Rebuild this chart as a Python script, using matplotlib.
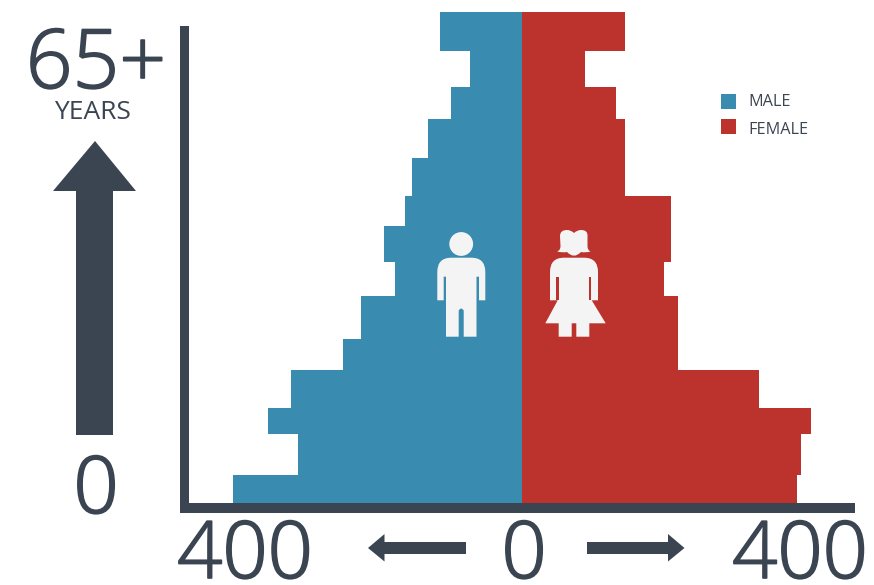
import matplotlib
matplotlib.use("Agg")
import matplotlib.pyplot as plt
import matplotlib.patheffects as pe
from matplotlib.path import Path
from matplotlib.patches import PathPatch, Circle, Polygon

# Age bands, youngest first
age_edges = [0, 4, 9.8, 13.5, 19, 23.4, 29.5, 34.3, 39.4, 43.7, 49.2, 54.7, 59.2, 64.4, 70]
male = [417, 323, 367, 333, 258, 232, 183, 199, 169, 158, 135, 102, 74, 118]
female = [397, 404, 418, 342, 226, 226, 205, 216, 216, 149, 149, 136, 92, 149]
series_names = ["MALE", "FEMALE"]
x_tick_labels = ["400", "0", "400"]
age_labels = ["65+", "YEARS", "0"]

BLUE = "#3A8BB0"
RED = "#BB332C"
DARK = "#3B4552"
ICON = "#F4F4F5"
W, H = 874, 585
FONT = "Open Sans"

fig = plt.figure(figsize=(W / 100, H / 100), dpi=100, facecolor="white")

# Pyramid axes: one data unit is about 0.6925 px around the centre line
left, right, top, bottom = 189, 855, 11.5, 503
centre, scale = 521.7, 0.6925
ax = fig.add_axes([left / W, 1 - bottom / H, (right - left) / W, (bottom - top) / H])
ax.set_xlim((left - centre) / scale, (right - centre) / scale)
ax.set_ylim(age_edges[0], age_edges[-1])
ax.axis("off")

heights = [b - a for a, b in zip(age_edges[:-1], age_edges[1:])]
ax.barh(age_edges[:-1], [-v for v in male], height=heights, align="edge",
        color=BLUE, linewidth=0, label=series_names[0])
ax.barh(age_edges[:-1], female, height=heights, align="edge",
        color=RED, linewidth=0, label=series_names[1])

# Pixel-space layer for the frame, arrows, icons and big labels
ov = fig.add_axes([0, 0, 1, 1], facecolor="none")
ov.set_xlim(0, W)
ov.set_ylim(H, 0)
ov.axis("off")


def poly(points, color):
    ov.add_patch(Polygon(points, closed=True, facecolor=color, edgecolor="none"))


# Axis frame
poly([(180, 26), (189, 26), (189, 503), (855, 503), (855, 513), (180, 513)], DARK)

# Direction arrows
poly([(95, 141), (136, 191), (113, 191), (113, 435), (76, 435), (76, 191), (53, 191)], DARK)
poly([(368, 548), (384.5, 534), (384.5, 542), (466, 542), (466, 554), (384.5, 554), (384.5, 561.5)], DARK)
poly([(684.5, 548), (668, 534), (668, 542), (587, 542), (587, 554), (668, 554), (668, 561.5)], DARK)


def draw_path(segments, color):
    verts, codes = zip(*segments)
    ov.add_patch(PathPatch(Path(verts, codes), facecolor=color, edgecolor="none"))


M, L, C3, Z = Path.MOVETO, Path.LINETO, Path.CURVE3, Path.CLOSEPOLY

# Male figure
ov.add_patch(Circle((461.2, 244), 11.9, facecolor=ICON, edgecolor="none"))
draw_path([
    ((437.3, 300.3), M), ((437.3, 272), L),
    ((437.3, 257.7), C3), ((451.3, 257.7), C3),
    ((471.3, 257.7), L),
    ((485.3, 257.7), C3), ((485.3, 272), C3),
    ((485.3, 300.3), L), ((479, 300.3), L), ((479, 276.7), L), ((476.5, 276.7), L),
    ((476.5, 336.7), L), ((463.7, 336.7), L), ((463.7, 310.5), L),
    ((461.2, 306.5), C3), ((458.7, 310.5), C3),
    ((458.7, 336.7), L), ((446, 336.7), L), ((446, 276.7), L), ((443.7, 276.7), L),
    ((443.7, 300.3), L), ((437.3, 300.3), Z),
], ICON)

# Female figure
draw_path([
    ((550, 300.3), M), ((550, 272), L),
    ((550, 257.7), C3), ((564, 257.7), C3),
    ((584, 257.7), L),
    ((598, 257.7), C3), ((598, 272), C3),
    ((598, 300.3), L), ((591.7, 300.3), L), ((605.7, 323.3), L),
    ((589.3, 323.3), L), ((589.3, 336.7), L), ((576.3, 336.7), L), ((576.3, 323.3), L),
    ((571.7, 323.3), L), ((571.7, 336.7), L), ((558.7, 336.7), L), ((558.7, 323.3), L),
    ((545.3, 323.3), L), ((557.7, 300.3), L), ((550, 300.3), Z),
], ICON)
# Arm slits on the dress
poly([(556.3, 276.7), (558.5, 276.7), (558.5, 300.3), (556.3, 300.3)], RED)
poly([(589.2, 276.7), (591.4, 276.7), (591.4, 300.3), (589.2, 300.3)], RED)
# Hair
draw_path([
    ((557, 251.5), M),
    ((560.5, 250.5), C3), ((560.5, 246), C3),
    ((560, 236), L),
    ((560, 230), C3), ((567, 230), C3),
    ((571, 230), C3), ((574, 233), C3),
    ((577, 230), C3), ((581, 230), C3),
    ((588, 230), C3), ((587.5, 236), C3),
    ((587.5, 246), L),
    ((587.5, 250.5), C3), ((590.7, 251.5), C3),
    ((585, 253), C3), ((581, 252), C3),
    ((574, 259.5), C3), ((567, 252), C3),
    ((563, 253), C3), ((557, 251.5), C3),
    ((557, 251.5), Z),
], ICON)


# Text layer
def label(x, y, text, size, ha="center", weight="light", stroke=1.2):
    t = ov.text(x, y, text, fontsize=size, color=DARK, ha=ha, va="baseline",
                family=FONT, fontweight=weight)
    if stroke:
        t.set_path_effects([pe.withStroke(linewidth=stroke, foreground=DARK)])


label(96, 88, age_labels[0], 59)
label(92, 119, age_labels[1], 19, weight="normal", stroke=0)
label(96, 513, age_labels[2], 57)
label(245, 578, x_tick_labels[0], 57)
label(524, 578, x_tick_labels[1], 57)
label(800, 578, x_tick_labels[2], 57)

# Legend keys and names
key_colors = [BLUE, RED]
key_tops = [94, 119]
name_baselines = [106, 134]
for name, color, y0, base in zip(series_names, key_colors, key_tops, name_baselines):
    poly([(721, y0), (736, y0), (736, y0 + 15), (721, y0 + 15)], color)
    label(748.5, base, name, 11.7, ha="left", weight="normal", stroke=0)

fig.savefig("out.png", dpi=100)
